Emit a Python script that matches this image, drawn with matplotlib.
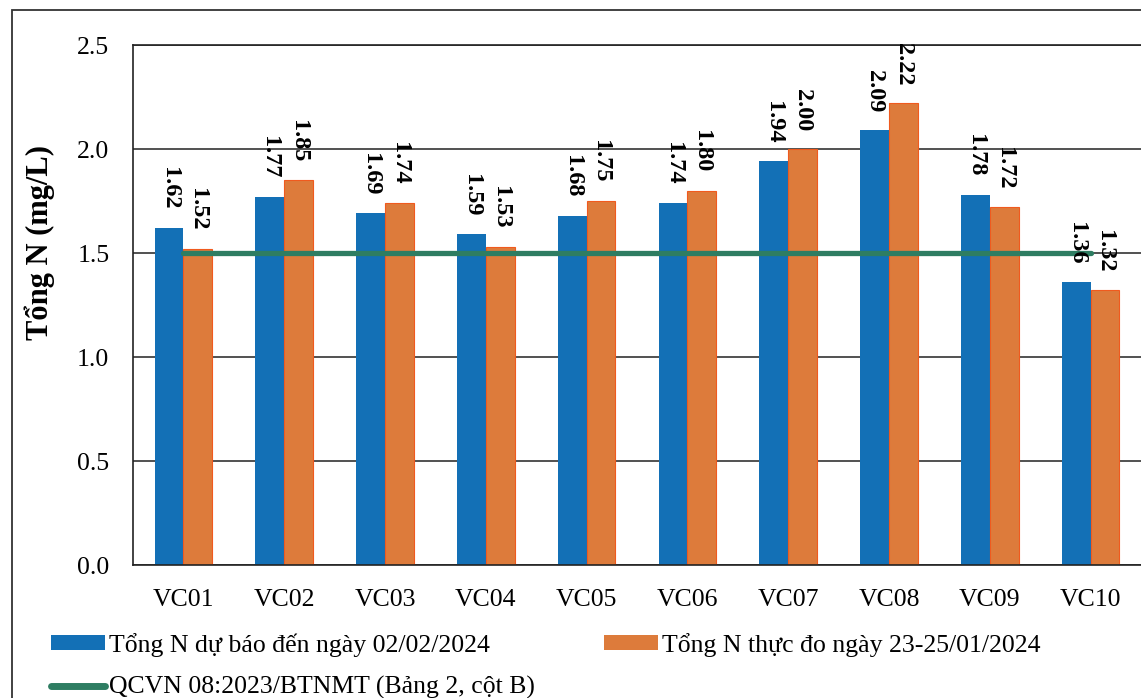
import numpy as np
import matplotlib
matplotlib.use("Agg")
import matplotlib.pyplot as plt
from matplotlib.patches import Patch, Rectangle
from matplotlib.lines import Line2D

plt.rcParams['font.family'] = ['Liberation Serif', 'DejaVu Serif']

# data
stations = ["VC01", "VC02", "VC03", "VC04", "VC05", "VC06", "VC07", "VC08", "VC09", "VC10"]
du_bao = [1.62, 1.77, 1.69, 1.59, 1.68, 1.74, 1.94, 2.09, 1.78, 1.36]
thuc_do = [1.52, 1.85, 1.74, 1.53, 1.75, 1.80, 2.00, 2.22, 1.72, 1.32]
qcvn = [1.5] * 10

lbl_blue = "Tổng N dự báo đến ngày 02/02/2024"
lbl_orange = "Tổng N thực đo ngày 23-25/01/2024"
lbl_green = "QCVN 08:2023/BTNMT (Bảng 2, cột B)"

blue = "#1370B6"
orange = "#DD7B3B"
green = "#2E7D62"

fig = plt.figure(figsize=(11.41, 6.98), dpi=100)
ax = fig.add_axes([133/1141, 133/698, 1 - 133/1141, 520/698])

x = np.arange(len(stations))
w = 0.285
b1 = ax.bar(x - w/2, du_bao, w, color=blue, zorder=2)
b2 = ax.bar(x + w/2, thuc_do, w, color=orange, edgecolor="#F05A1E", linewidth=0.8, zorder=2)
ax.plot(x, qcvn, color=green, linewidth=3.8, solid_capstyle='round', zorder=3)

for bars, vals in [(b1, du_bao), (b2, thuc_do)]:
    for r, v in zip(bars, vals):
        ax.annotate("%.2f" % v, (r.get_x() + r.get_width()/2, v),
                    xytext=(0, 13), textcoords="offset points",
                    rotation=-90, ha="center", va="bottom",
                    fontsize=17.5, fontweight="bold", zorder=4)

ax.set_xlim(-0.5, 9.5)
ax.set_ylim(0, 2.5)
ax.set_yticks([0, 0.5, 1.0, 1.5, 2.0, 2.5])
ax.set_yticklabels(["0.0", "0.5", "1.0", "1.5", "2.0", "2.5"])
ax.set_xticks(x)
ax.set_xticklabels(stations)
ax.tick_params(length=0, labelsize=18.5)
ax.tick_params(axis='x', pad=17)
ax.tick_params(axis='y', pad=17)
ax.yaxis.grid(True, color="#333333", linewidth=1.2, zorder=0)
ax.set_axisbelow(True)
for s in ["left", "bottom", "top"]:
    ax.spines[s].set_color("#222222")
    ax.spines[s].set_linewidth(1.2)
ax.spines["right"].set_visible(False)

fig.text(40/1141, 1 - 242/698, "Tổng N (mg/L)", rotation=90, ha="center", va="center",
         fontsize=22, fontweight="bold")

handles = [Patch(facecolor=blue), Line2D([], [], color=green, linewidth=5, solid_capstyle='round'),
           Patch(facecolor=orange)]
labels = [lbl_blue, lbl_green, lbl_orange]
fig.legend(handles, labels, ncol=2, loc="upper left", bbox_to_anchor=(38/1141, 1 - 620/698),
           frameon=False, fontsize=18.5, handlelength=2.1, handleheight=0.5,
           handletextpad=0.15, columnspacing=2.7, labelspacing=0.75, borderpad=0)

# outer chart border (scan frame)
fig.patches.append(Rectangle((12/1141, -0.01), 1.0, 1 - 10/698 + 0.01, transform=fig.transFigure,
                             fill=False, edgecolor="#333333", linewidth=1.3))

fig.savefig("out.png", dpi=100)
